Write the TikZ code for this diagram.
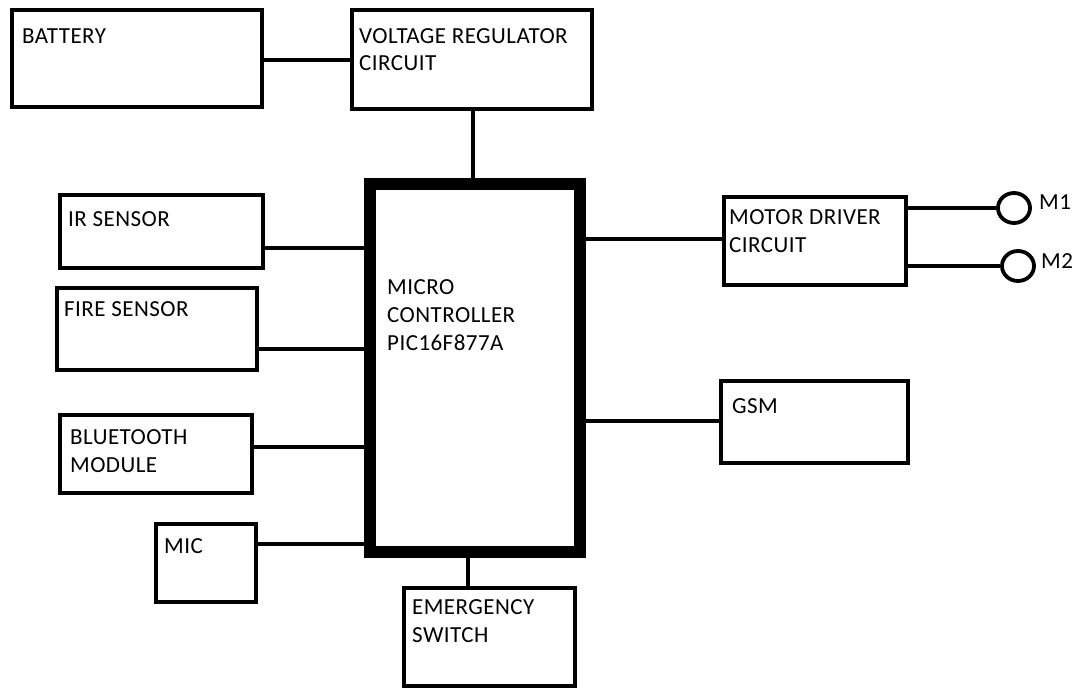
\documentclass[tikz,border=0pt]{standalone}
\usepackage{fontspec}
\setmainfont{Carlito}[LetterSpace=2.0]
\usetikzlibrary{shapes.geometric}
\begin{document}
\begin{tikzpicture}[x=1pt,y=-1pt,
  box/.style={draw,line width=3.8pt,rectangle,anchor=north west,inner sep=0pt,outer sep=0pt},
  wire/.style={line width=3.8pt},
  lbl/.style={anchor=base west,inner sep=0pt,font=\fontsize{23}{28}\selectfont},
  motor/.style={draw,ellipse,line width=3.8pt,inner sep=0pt,minimum width=32pt,minimum height=30pt}]
\useasboundingbox (0,0) rectangle (1072,688);
% boxes
\node[box,minimum width=250pt,minimum height=97pt] (bat) at (12,10) {};
\node[box,minimum width=240pt,minimum height=99pt] (vr) at (352,10) {};
\node[box,minimum width=203pt,minimum height=73pt] (ir) at (60,195) {};
\node[box,minimum width=200pt,minimum height=82pt] (fire) at (57,288) {};
\node[box,minimum width=192pt,minimum height=78pt] (bt) at (60,415) {};
\node[box,minimum width=100pt,minimum height=78pt] (mic) at (156,524) {};
\node[box,minimum width=171pt,minimum height=98pt] (es) at (404,588) {};
\node[box,minimum width=182pt,minimum height=88pt] (md) at (724,197) {};
\node[box,minimum width=187pt,minimum height=82pt] (gsm) at (721,381) {};
\node[box,line width=12pt,minimum width=210pt,minimum height=368pt] (mcu) at (370,184) {};
\node[motor] (m1) at (1014,208) {};
\node[motor] (m2) at (1018,266) {};
% labels
\node[lbl] (tbat) at (22,43) {BATTERY};
\node[lbl] (tvr1) at (359,43) {VOLTAGE REGULATOR};
\node[lbl] (tvr2) at (359,70) {CIRCUIT};
\node[lbl] (tir) at (68,226) {IR SENSOR};
\node[lbl] (tfire) at (64,316) {FIRE SENSOR};
\node[lbl] (tbt1) at (70,444) {BLUETOOTH};
\node[lbl] (tbt2) at (70,472) {MODULE};
\node[lbl] (tmic) at (164,553) {MIC};
\node[lbl] (tmcu1) at (387,294) {MICRO};
\node[lbl] (tmcu2) at (387,322) {CONTROLLER};
\node[lbl] (tmcu3) at (387,350) {PIC16F877A};
\node[lbl] (tes1) at (412,614) {EMERGENCY};
\node[lbl] (tes2) at (412,642) {SWITCH};
\node[lbl] (tmd1) at (729,224) {MOTOR DRIVER};
\node[lbl] (tmd2) at (729,252) {CIRCUIT};
\node[lbl] (tgsm) at (732,413) {GSM};
\node[lbl] (tm1) at (1039,209) {M1};
\node[lbl] (tm2) at (1041,268) {M2};
% connectors
\draw[wire] (bat.east |- 0,60) -- (vr.west |- 0,60);
\draw[wire] (vr.south -| 473,0) -- (mcu.north -| 473,0);
\draw[wire] (ir.east |- 0,248) -- (mcu.west |- 0,248);
\draw[wire] (fire.east |- 0,349) -- (mcu.west |- 0,349);
\draw[wire] (bt.east |- 0,447) -- (mcu.west |- 0,447);
\draw[wire] (mic.east |- 0,544) -- (mcu.west |- 0,544);
\draw[wire] (mcu.south -| 468,0) -- (es.north -| 468,0);
\draw[wire] (mcu.east |- 0,239) -- (md.west |- 0,239);
\draw[wire] (mcu.east |- 0,421) -- (gsm.west |- 0,421);
\draw[wire] (md.east |- m1.west) -- (m1.west);
\draw[wire] (md.east |- m2.west) -- (m2.west);
\end{tikzpicture}
\end{document}
